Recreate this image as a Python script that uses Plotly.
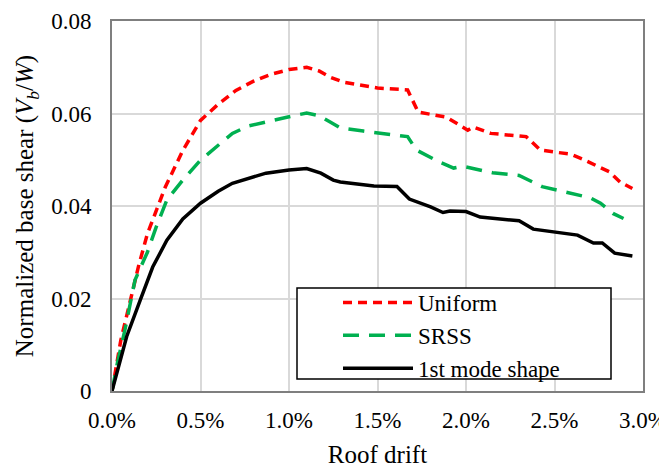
import plotly.graph_objects as go

# Roof drift (%) and normalized base shear
uni_x = [0, 0.05, 0.1, 0.15, 0.2, 0.25, 0.3, 0.4, 0.5, 0.6, 0.7, 0.8, 0.9, 1.0, 1.1, 1.17, 1.23, 1.305, 1.5, 1.67, 1.73, 1.89, 2.01, 2.04, 2.14, 2.34, 2.42, 2.59, 2.66, 2.81, 2.87, 2.94]
uni_y = [0, 0.011, 0.019, 0.027, 0.034, 0.039, 0.044, 0.052, 0.0585, 0.062, 0.065, 0.067, 0.0685, 0.0695, 0.070, 0.0692, 0.0679, 0.0668, 0.0655, 0.0651, 0.0603, 0.0592, 0.0564, 0.0571, 0.0557, 0.0550, 0.0521, 0.0512, 0.0501, 0.0474, 0.0452, 0.0438]

srss_x = [0, 0.03, 0.073, 0.13, 0.2, 0.25, 0.31, 0.40, 0.5, 0.6, 0.68, 0.77, 0.9, 1.0, 1.1, 1.17, 1.23, 1.29, 1.42, 1.61, 1.67, 1.72, 1.85, 1.93, 1.98, 2.15, 2.3, 2.43, 2.6, 2.7, 2.76, 2.83, 2.89]
srss_y = [0, 0.006, 0.0132, 0.024, 0.030, 0.0355, 0.0413, 0.0456, 0.0499, 0.053, 0.0557, 0.0573, 0.0585, 0.0593, 0.0601, 0.0595, 0.0582, 0.0569, 0.0562, 0.0554, 0.0550, 0.0521, 0.0495, 0.0482, 0.0486, 0.0472, 0.0466, 0.0442, 0.0427, 0.0418, 0.0406, 0.0384, 0.0373]

mode_x = [0, 0.083, 0.16, 0.23, 0.31, 0.4, 0.5, 0.6, 0.68, 0.87, 1.0, 1.1, 1.18, 1.25, 1.29, 1.48, 1.61, 1.68, 1.8, 1.87, 1.91, 2.0, 2.08, 2.3, 2.38, 2.6, 2.63, 2.72, 2.77, 2.84, 2.94]
mode_y = [0, 0.0118, 0.0197, 0.0268, 0.0326, 0.0372, 0.0406, 0.0432, 0.0449, 0.0471, 0.0478, 0.0481, 0.0471, 0.0456, 0.0452, 0.0443, 0.0442, 0.0415, 0.0398, 0.0386, 0.0389, 0.0388, 0.0376, 0.0368, 0.0350, 0.0337, 0.0337, 0.0320, 0.0320, 0.0298, 0.0292]

x_ticks = [0, 0.5, 1.0, 1.5, 2.0, 2.5, 3.0]
x_labels = ["0.0%", "0.5%", "1.0%", "1.5%", "2.0%", "2.5%", "3.0%"]
y_ticks = [0, 0.02, 0.04, 0.06, 0.08]
y_labels = ["0", "0.02", "0.04", "0.06", "0.08"]

FONT = "Liberation Serif"

fig = go.Figure()
fig.add_trace(go.Scatter(x=uni_x, y=uni_y, mode="lines", name="Uniform",
                         line=dict(color="#ff0000", width=3.5, dash="9px,6px")))
fig.add_trace(go.Scatter(x=srss_x, y=srss_y, mode="lines", name="SRSS",
                         line=dict(color="#00b050", width=3.5, dash="16px,10px")))
fig.add_trace(go.Scatter(x=mode_x, y=mode_y, mode="lines", name="1st mode shape",
                         line=dict(color="#000000", width=3.5)))

# page body has an 8px margin: figure is drawn 8px in from the top-left
PW, PH = 531, 370
fig.add_shape(type="rect", xref="paper", yref="paper",
              x0=(297 - 112) / PW, x1=(611 - 112) / PW,
              y0=(391 - 379) / PH, y1=(391 - 288) / PH,
              line=dict(color="black", width=1.5), fillcolor="white", layer="above")

fig.update_layout(
    width=659, height=460,
    margin=dict(l=104, r=24, t=13, b=77),
    paper_bgcolor="white", plot_bgcolor="white",
    font=dict(family=FONT, size=23, color="black"),
    showlegend=True,
    legend=dict(x=(338 - 112) / PW, y=(391 - 281) / PH, xanchor="left", yanchor="top",
                bgcolor="rgba(0,0,0,0)", borderwidth=0, font=dict(size=23, family=FONT),
                itemwidth=70),
    xaxis=dict(range=[0, 3.0], tickvals=x_ticks, ticktext=x_labels, showgrid=True,
               gridcolor="#d9d9d9", gridwidth=1.5, showline=True, linecolor="#7f7f7f",
               linewidth=2, mirror=True, ticks="", zeroline=False, automargin=False,
               ticklabelstandoff=7,
               title=dict(text="Roof drift", font=dict(size=25), standoff=22)),
    yaxis=dict(range=[0, 0.08], tickvals=y_ticks, ticktext=y_labels, showgrid=True,
               gridcolor="#d9d9d9", gridwidth=1.5, showline=True, linecolor="#7f7f7f",
               linewidth=2, mirror=True, ticks="", zeroline=False, automargin=False,
               ticklabelstandoff=14,
               title=dict(text="Normalized base shear (<i>V<sub>b</sub></i>/<i>W</i>)", font=dict(size=25), standoff=10)),
)

fig.write_html("out.html")
